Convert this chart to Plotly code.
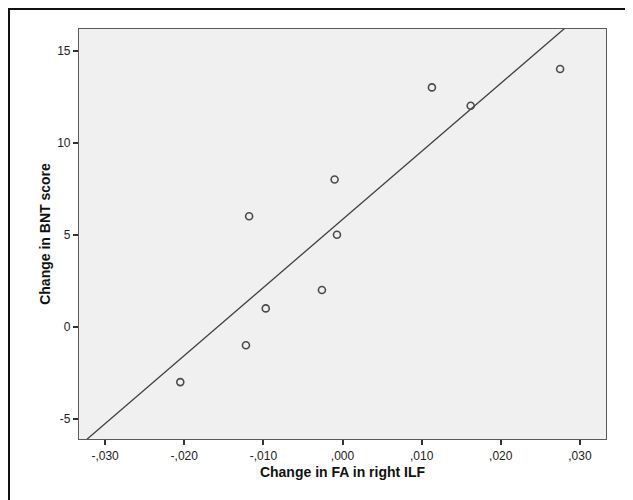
import numpy as np
import plotly.graph_objects as go

# Data
fa_change = [-0.0205, -0.0122, -0.0118, -0.0097, -0.0026, -0.0010, -0.0007, 0.0113, 0.0162, 0.0275]
bnt_change = [-3, -1, 6, 1, 2, 8, 5, 13, 12, 14]

x_tickvals = [-0.03, -0.02, -0.01, 0.0, 0.01, 0.02, 0.03]
x_ticktext = ["-,030", "-,020", "-,010", ",000", ",010", ",020", ",030"]
y_tickvals = [-5, 0, 5, 10, 15]
y_ticktext = ["-5", "0", "5", "10", "15"]

x_range = [-0.0333, 0.0333]
y_range = [-6.09, 16.17]

# Linear fit line (computed from the data)
slope, intercept = np.polyfit(fa_change, bnt_change, 1)
fit_x = np.array(x_range)
fit_y = intercept + slope * fit_x

fig = go.Figure()
fig.add_trace(go.Scatter(
    x=fit_x, y=fit_y, mode="lines",
    line=dict(color="#404040", width=1.3),
    hoverinfo="skip", showlegend=False,
))
fig.add_trace(go.Scatter(
    x=fa_change, y=bnt_change, mode="markers",
    marker=dict(symbol="circle-open", size=7, color="#4a4a4a", line=dict(width=1.6, color="#4a4a4a")),
    showlegend=False,
))

font_family = "Liberation Sans, Arial, sans-serif"

fig.update_layout(
    width=633, height=500,
    margin=dict(l=71, r=35, t=21, b=69),
    paper_bgcolor="white",
    plot_bgcolor="#f0f0f0",
    font=dict(family=font_family, color="#222"),
    xaxis=dict(
        range=x_range, tickvals=x_tickvals, ticktext=x_ticktext,
        showgrid=False, zeroline=False,
        showline=True, linecolor="#5a5a5a", linewidth=1.2, mirror=True,
        ticks="outside", ticklen=5, tickwidth=1.5, tickcolor="#333",
        tickfont=dict(size=12, color="#222"),
        title=dict(text="<b>Change in FA in right ILF</b>", font=dict(size=14, color="#111"), standoff=5),
    ),
    yaxis=dict(
        range=y_range, tickvals=y_tickvals, ticktext=y_ticktext,
        showgrid=False, zeroline=False,
        showline=True, linecolor="#5a5a5a", linewidth=1.2, mirror=True,
        ticks="outside", ticklen=5, tickwidth=1.5, tickcolor="#333",
        tickfont=dict(size=12, color="#222"),
        title=dict(text="<b>Change in BNT score</b>", font=dict(size=14, color="#111"), standoff=3),
    ),
    shapes=[dict(
        type="rect", xref="paper", yref="paper",
        x0=-0.1328, x1=1.1, y0=-0.25, y1=1.049,
        line=dict(color="#111", width=2), fillcolor="rgba(0,0,0,0)", layer="above",
    )],
)

fig.write_html("out.html")
